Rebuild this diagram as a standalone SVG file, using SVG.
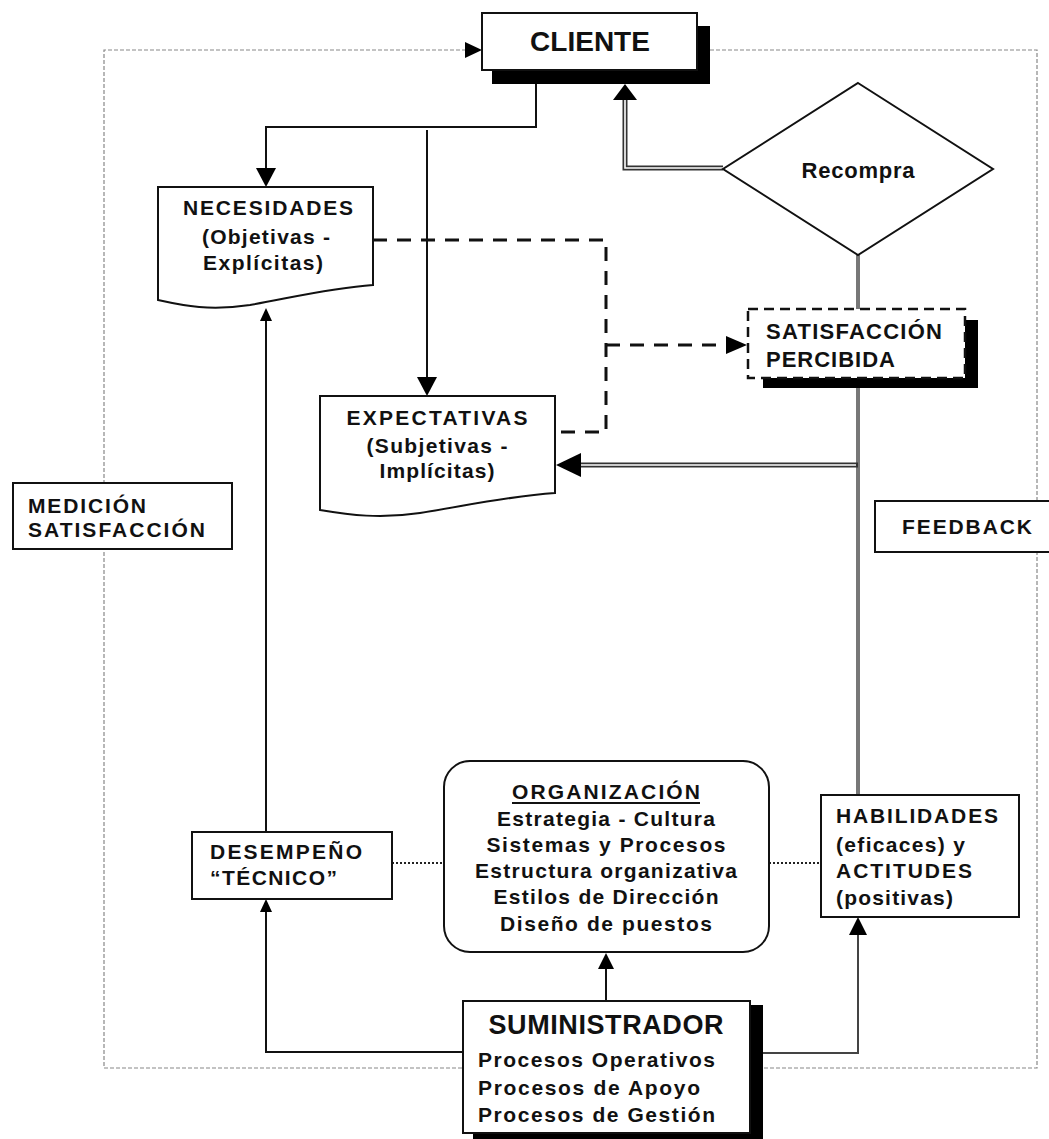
<svg xmlns="http://www.w3.org/2000/svg" width="1049" height="1139" viewBox="0 0 1049 1139">
<style>
text{font-family:"Liberation Sans",Arial,sans-serif;font-weight:bold;fill:#111;}
.box{fill:#fff;stroke:#111;stroke-width:2;}
.shadow{fill:#000;}
.border{fill:none;stroke:#888;stroke-width:1.2;stroke-dasharray:4 2;}
.line{fill:none;stroke:#111;stroke-width:2;}
.gline{fill:none;stroke:#777;stroke-width:4;}
.dbl-out{fill:none;stroke:#333;stroke-width:5;}
.dbl-in{fill:none;stroke:#fff;stroke-width:1.6;}
.dash{fill:none;stroke:#111;stroke-width:3;stroke-dasharray:14 10;}
.dot{fill:none;stroke:#222;stroke-width:2;stroke-dasharray:2 2;}
.head{fill:#000;}
.t{font-size:21px;}
</style>

<g id="frame">
<path class="border" d="M466,50 H104 V1068 H463"/>
<path class="border" d="M710,50 H1037 V1068 H763"/>
<polygon class="head" points="465,42 482,50 465,58"/>
</g>

<g id="connectors">
<path class="line" d="M536,84 V127 H266 V172"/>
<polygon class="head" points="256,168 276,168 266,187"/>
<path class="line" d="M427,130 V380"/>
<polygon class="head" points="417,377 437,377 427,396"/>
<path class="dash" d="M373,240 H606 V432 H555"/>
<path class="dash" d="M606,345 H728"/>
<polygon class="head" points="726,336 747,345 726,354"/>
<path class="dbl-out" d="M723,168 H625 V98"/>
<path class="dbl-in" d="M723,168 H625 V98"/>
<polygon class="head" points="613,100 637,100 625,84"/>
<path class="gline" d="M858,255 V309"/>
<path class="gline" d="M858,388 V795"/>
<path class="dbl-out" d="M858,465 H578"/>
<path class="dbl-in" d="M856,465 H578"/>
<polygon class="head" points="581,453 581,477 556,465"/>
<path class="line" d="M463,1052 H266 V912"/>
<polygon class="head" points="260,912 272,912 266,899"/>
<path class="line" d="M266,832 V320"/>
<polygon class="head" points="260,321 272,321 266,308"/>
<path class="line" d="M606,1000 V968"/>
<polygon class="head" points="598,969 614,969 606,953"/>
<path class="line" style="stroke:#444" d="M750,1053 H858 V934"/>
<polygon class="head" points="849,935 867,935 858,917"/>
<path class="dot" d="M392,863 H444"/>
<path class="dot" d="M769,863 H821"/>
</g>

<g id="cliente">
<rect class="shadow" x="492" y="26" width="218" height="58"/>
<rect class="box" x="482" y="13" width="215" height="57"/>
<text x="590" y="51" font-size="28" text-anchor="middle">CLIENTE</text>
</g>

<g id="recompra">
<polygon class="box" points="858,83 993,169 858,255 723,169"/>
<text x="858" y="178" font-size="22" text-anchor="middle" textLength="113" lengthAdjust="spacing">Recompra</text>
</g>

<g id="necesidades">
<path class="box" d="M158,187 H373 V285 C330,288 290,298 250,305 C210,311 185,306 158,300 Z"/>
<text class="t" x="268" y="215" text-anchor="middle" textLength="170" lengthAdjust="spacing">NECESIDADES</text>
<text class="t" x="266" y="244" text-anchor="middle" textLength="128" lengthAdjust="spacing">(Objetivas -</text>
<text class="t" x="263" y="270" text-anchor="middle" textLength="120" lengthAdjust="spacing">Explícitas)</text>
</g>

<g id="satisfaccion">
<rect class="shadow" x="763" y="320" width="215" height="68"/>
<rect x="748" y="309" width="217" height="69" fill="#fff" stroke="#111" stroke-width="2.5" stroke-dasharray="10 6"/>
<text x="766" y="339" font-size="22" textLength="176" lengthAdjust="spacing">SATISFACCIÓN</text>
<text x="766" y="367" font-size="22" textLength="129" lengthAdjust="spacing">PERCIBIDA</text>
</g>

<g id="expectativas">
<path class="box" d="M320,396 H555 V493 C510,496 470,505 420,513 C380,519 350,515 320,510 Z"/>
<text class="t" x="437" y="425" text-anchor="middle" textLength="181" lengthAdjust="spacing">EXPECTATIVAS</text>
<text class="t" x="437" y="453" text-anchor="middle" textLength="141" lengthAdjust="spacing">(Subjetivas -</text>
<text class="t" x="437" y="478" text-anchor="middle" textLength="115" lengthAdjust="spacing">Implícitas)</text>
</g>

<g id="medicion">
<rect class="box" x="13" y="483" width="219" height="66"/>
<text class="t" x="28" y="513" textLength="118" lengthAdjust="spacing">MEDICIÓN</text>
<text class="t" x="28" y="537" textLength="177" lengthAdjust="spacing">SATISFACCIÓN</text>
</g>

<g id="feedback">
<rect class="box" x="875" y="501" width="190" height="51"/>
<text class="t" x="902" y="534" textLength="130" lengthAdjust="spacing">FEEDBACK</text>
</g>

<g id="desempeno">
<rect class="box" x="192" y="832" width="200" height="67"/>
<text class="t" x="210" y="859" textLength="152" lengthAdjust="spacing">DESEMPEÑO</text>
<text class="t" x="210" y="885" textLength="127" lengthAdjust="spacing">“TÉCNICO”</text>
</g>

<g id="organizacion">
<rect class="box" x="444" y="761" width="325" height="191" rx="26" ry="26"/>
<text class="t" x="606" y="799" text-anchor="middle" textLength="188" lengthAdjust="spacing">ORGANIZACIÓN</text>
<line x1="512" y1="803" x2="700" y2="803" stroke="#111" stroke-width="1.8"/>
<text class="t" x="606" y="826" text-anchor="middle" textLength="218" lengthAdjust="spacing">Estrategia - Cultura</text>
<text class="t" x="606" y="852" text-anchor="middle" textLength="239" lengthAdjust="spacing">Sistemas y Procesos</text>
<text class="t" x="606" y="878" text-anchor="middle" textLength="262" lengthAdjust="spacing">Estructura organizativa</text>
<text class="t" x="606" y="904" text-anchor="middle" textLength="225" lengthAdjust="spacing">Estilos de Dirección</text>
<text class="t" x="606" y="931" text-anchor="middle" textLength="212" lengthAdjust="spacing">Diseño de puestos</text>
</g>

<g id="habilidades">
<rect class="box" x="821" y="795" width="198" height="122"/>
<text class="t" x="836" y="823" textLength="162" lengthAdjust="spacing">HABILIDADES</text>
<text class="t" x="836" y="852" textLength="129" lengthAdjust="spacing">(eficaces) y</text>
<text class="t" x="836" y="878" textLength="136" lengthAdjust="spacing">ACTITUDES</text>
<text class="t" x="836" y="905" textLength="117" lengthAdjust="spacing">(positivas)</text>
</g>

<g id="suministrador">
<rect class="shadow" x="473" y="1005" width="290" height="134"/>
<rect class="box" x="463" y="1001" width="287" height="132"/>
<text x="606" y="1034" font-size="27" text-anchor="middle" textLength="235" lengthAdjust="spacing">SUMINISTRADOR</text>
<text class="t" x="478" y="1067" textLength="237" lengthAdjust="spacing">Procesos Operativos</text>
<text class="t" x="478" y="1095" textLength="222" lengthAdjust="spacing">Procesos de Apoyo</text>
<text class="t" x="478" y="1122" textLength="237" lengthAdjust="spacing">Procesos de Gestión</text>
</g>
</svg>
